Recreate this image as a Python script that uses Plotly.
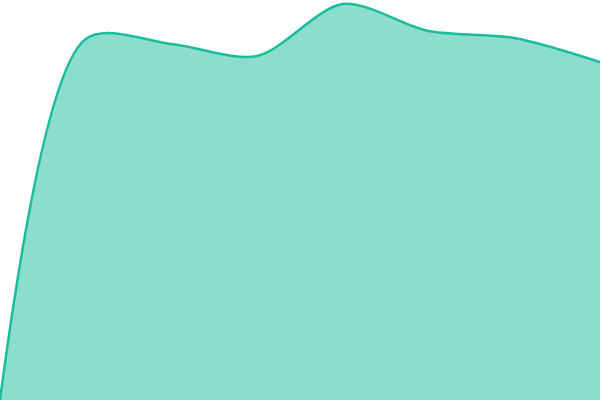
import plotly.graph_objects as go

# data (values on a 0-400 scale)
steps = [0, 1, 2, 3, 4, 5, 6, 7]
values = [0, 361, 356, 344, 396, 369, 362, 338]

fig = go.Figure()

fig.add_trace(go.Scatter(
    x=steps,
    y=values,
    mode='lines',
    line=dict(color='#1abc9c', width=2.5, shape='spline', smoothing=0.85),
    fill='tozeroy',
    fillcolor='rgba(26,188,156,0.5)',
    hoverinfo='skip'
))

fig.update_layout(
    width=600,
    height=400,
    margin=dict(l=0, r=0, t=0, b=0),
    paper_bgcolor='white',
    plot_bgcolor='white',
    showlegend=False,
    xaxis=dict(visible=False, range=[0, 7]),
    yaxis=dict(visible=False, range=[0, 400])
)

# drop the page's default body margin so the chart fills the window
fig.write_html("out.html", config={'displayModeBar': False},
               post_script="document.body.style.margin='0';")
